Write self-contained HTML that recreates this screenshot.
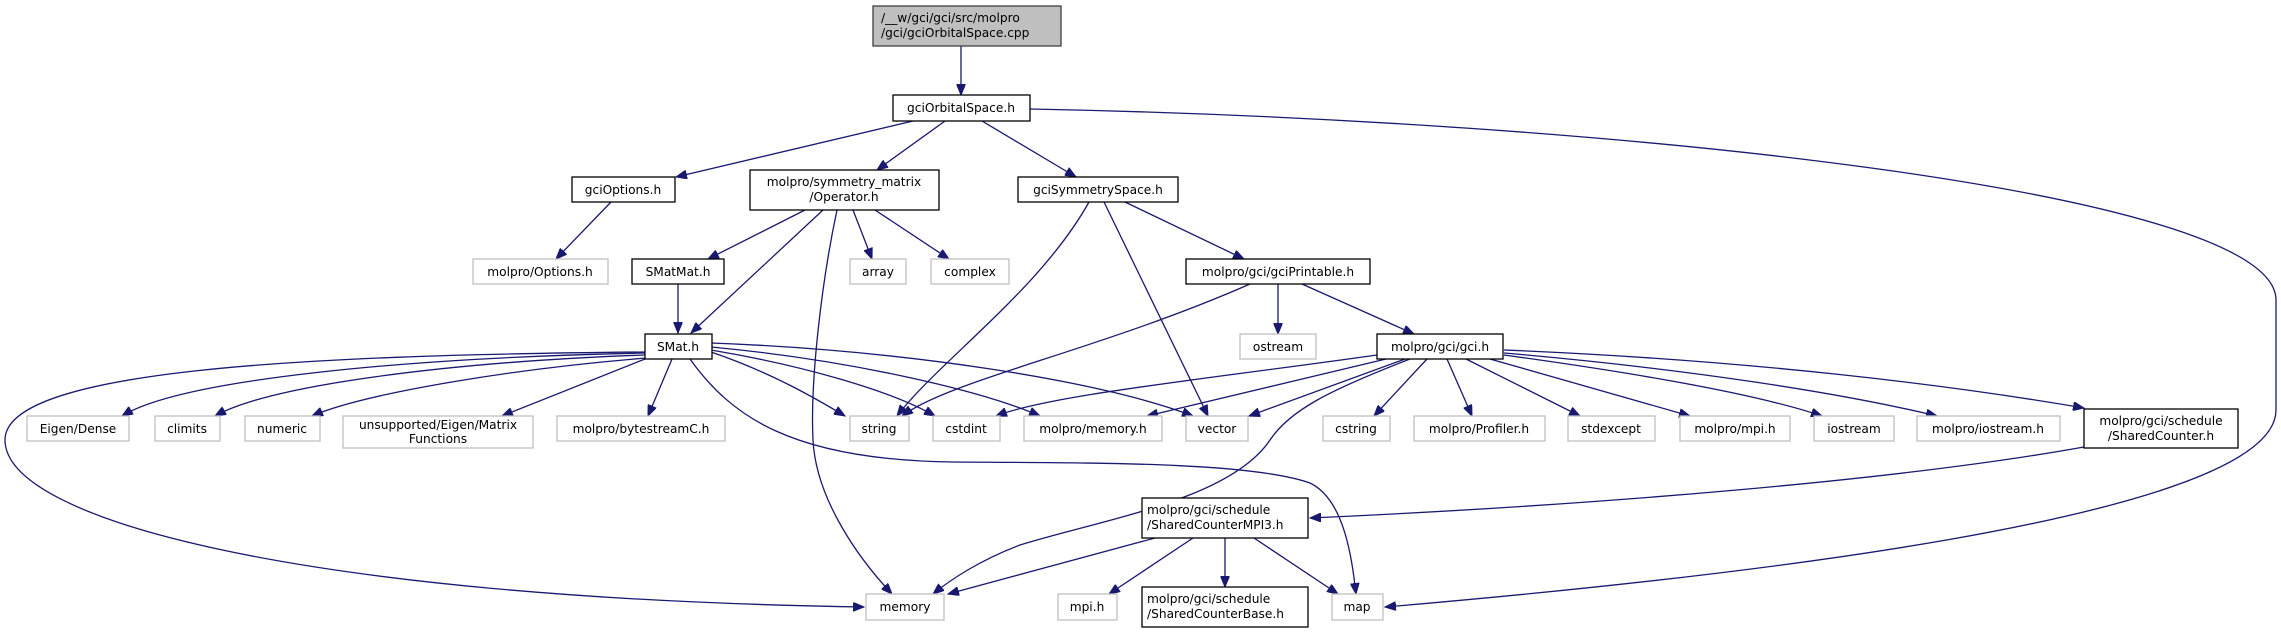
<!DOCTYPE html>
<html><head><meta charset="utf-8"><style>
html,body{margin:0;padding:0;background:#fff;}
svg{display:block;}
text{font-family:"DejaVu Sans","Liberation Sans",sans-serif;font-size:12.2px;fill:#000;text-anchor:middle;}
.n{fill:#fff;stroke:#000;stroke-width:1.3;}
.g{fill:#fff;stroke:#bfbfbf;stroke-width:1.3;}
.e{fill:none;stroke:#191970;stroke-width:1.3;marker-end:url(#a);}
</style></head><body>
<svg width="2281" height="633" viewBox="0 0 2281 633" xmlns="http://www.w3.org/2000/svg">
<defs><marker id="a" markerUnits="userSpaceOnUse" markerWidth="12" markerHeight="9" refX="11" refY="4.5" orient="auto"><path d="M0,0 L11,4.5 L0,9 z" fill="#191970" stroke="#191970"/></marker></defs>

<!-- edges -->
<path class="e" d="M961,46 L961,95"/>
<path class="e" d="M913,121 L676,177"/>
<path class="e" d="M945,121 L877,170"/>
<path class="e" d="M982,121 L1076,177"/>
<path class="e" d="M1030,109 C1600,120 2276,190 2276,300 L2276,410 C2276,520 1700,580 1385,607"/>
<path class="e" d="M611,202 L556,259"/>
<path class="e" d="M805,210 L708,259"/>
<path class="e" d="M823,210 L691,333"/>
<path class="e" d="M837,210 C822,280 810,380 813,440 C816,500 860,560 892,594"/>
<path class="e" d="M853,210 L872,259"/>
<path class="e" d="M875,210 L949,259"/>
<path class="e" d="M1089,202 C1040,290 940,360 897,416"/>
<path class="e" d="M1104,202 L1208,416"/>
<path class="e" d="M1125,202 L1244,259"/>
<path class="e" d="M678,284 L678,333"/>
<path class="e" d="M645,352 C300,355 5,370 5,440 C5,520 300,598 864,607"/>
<path class="e" d="M645,353 C400,358 180,380 122,416"/>
<path class="e" d="M645,355 C450,362 270,385 215,416"/>
<path class="e" d="M646,358 C500,370 360,395 312,416"/>
<path class="e" d="M645,359 L502,416"/>
<path class="e" d="M672,359 L648,416"/>
<path class="e" d="M711,352 C770,372 815,398 845,416"/>
<path class="e" d="M711,350 C800,365 890,390 935,416"/>
<path class="e" d="M711,347 C850,360 980,390 1040,416"/>
<path class="e" d="M711,343 C900,350 1100,380 1193,416"/>
<path class="e" d="M690,359 C730,415 790,460 953,462 C1100,463 1250,462 1310,483 C1345,500 1352,560 1356,594"/>
<path class="e" d="M1250,284 C1100,350 950,380 902,416"/>
<path class="e" d="M1278,284 L1278,334"/>
<path class="e" d="M1302,284 L1414,334"/>
<path class="e" d="M1377,355 C1200,380 1050,395 996,416"/>
<path class="e" d="M1386,359 L1147,416"/>
<path class="e" d="M1405,359 L1249,416"/>
<path class="e" d="M1410,359 C1330,390 1290,410 1270,440 C1230,500 1100,520 1020,545 C980,560 950,580 933,594"/>
<path class="e" d="M1427,359 L1374,416"/>
<path class="e" d="M1447,359 L1472,416"/>
<path class="e" d="M1466,359 L1580,416"/>
<path class="e" d="M1490,359 L1690,416"/>
<path class="e" d="M1504,355 C1650,375 1760,395 1822,416"/>
<path class="e" d="M1504,353 C1700,370 1850,395 1937,416"/>
<path class="e" d="M1504,350 C1750,360 1950,385 2084,408"/>
<path class="e" d="M2084,447 C1900,480 1600,505 1310,518"/>
<path class="e" d="M1155,538 L948,594"/>
<path class="e" d="M1193,538 L1109,594"/>
<path class="e" d="M1225,538 L1225,587"/>
<path class="e" d="M1254,538 L1338,594"/>

<!-- nodes -->
<rect x="873" y="6" width="188" height="40" fill="#bfbfbf" stroke="#404040" stroke-width="1.3"/>
<text x="967" y="22" style="text-anchor:start" transform="translate(-86,0)">/__w/gci/gci/src/molpro</text>
<text x="967" y="37" style="text-anchor:start" transform="translate(-86,0)">/gci/gciOrbitalSpace.cpp</text>

<rect class="n" x="893" y="95" width="137" height="26"/><text x="961" y="112">gciOrbitalSpace.h</text>
<rect class="n" x="572" y="177" width="103" height="25"/><text x="623" y="194">gciOptions.h</text>
<rect class="n" x="750" y="170" width="189" height="40"/><text x="844" y="186">molpro/symmetry_matrix</text><text x="844" y="201">/Operator.h</text>
<rect class="n" x="1018" y="177" width="160" height="25"/><text x="1098" y="194">gciSymmetrySpace.h</text>
<rect class="g" x="473" y="259" width="135" height="25"/><text x="540" y="276">molpro/Options.h</text>
<rect class="n" x="632" y="259" width="92" height="25"/><text x="678" y="276">SMatMat.h</text>
<rect class="g" x="850" y="259" width="56" height="25"/><text x="878" y="276">array</text>
<rect class="g" x="931" y="259" width="78" height="25"/><text x="970" y="276">complex</text>
<rect class="n" x="1186" y="259" width="184" height="25"/><text x="1278" y="276">molpro/gci/gciPrintable.h</text>
<rect class="n" x="645" y="334" width="67" height="25"/><text x="678" y="351">SMat.h</text>
<rect class="g" x="1240" y="334" width="76" height="25"/><text x="1278" y="351">ostream</text>
<rect class="n" x="1377" y="334" width="126" height="25"/><text x="1440" y="351">molpro/gci/gci.h</text>

<rect class="g" x="27" y="416" width="102" height="25"/><text x="78" y="433">Eigen/Dense</text>
<rect class="g" x="155" y="416" width="65" height="25"/><text x="187" y="433">climits</text>
<rect class="g" x="245" y="416" width="75" height="25"/><text x="282" y="433">numeric</text>
<rect class="g" x="343" y="416" width="190" height="32"/><text x="438" y="429">unsupported/Eigen/Matrix</text><text x="438" y="443">Functions</text>
<rect class="g" x="557" y="416" width="168" height="25"/><text x="641" y="433">molpro/bytestreamC.h</text>
<rect class="g" x="850" y="416" width="59" height="25"/><text x="879" y="433">string</text>
<rect class="g" x="933" y="416" width="67" height="25"/><text x="966" y="433">cstdint</text>
<rect class="g" x="1024" y="416" width="138" height="25"/><text x="1093" y="433">molpro/memory.h</text>
<rect class="g" x="1186" y="416" width="62" height="25"/><text x="1217" y="433">vector</text>
<rect class="g" x="1323" y="416" width="67" height="25"/><text x="1356" y="433">cstring</text>
<rect class="g" x="1414" y="416" width="131" height="25"/><text x="1479" y="433">molpro/Profiler.h</text>
<rect class="g" x="1568" y="416" width="87" height="25"/><text x="1611" y="433">stdexcept</text>
<rect class="g" x="1680" y="416" width="110" height="25"/><text x="1735" y="433">molpro/mpi.h</text>
<rect class="g" x="1814" y="416" width="80" height="25"/><text x="1854" y="433">iostream</text>
<rect class="g" x="1917" y="416" width="143" height="25"/><text x="1988" y="433">molpro/iostream.h</text>
<rect class="n" x="2084" y="409" width="154" height="39"/><text x="2161" y="425">molpro/gci/schedule</text><text x="2161" y="440">/SharedCounter.h</text>

<rect class="n" x="1142" y="498" width="166" height="40"/><text x="1225" y="514" style="text-anchor:start" transform="translate(-78,0)">molpro/gci/schedule</text><text x="1225" y="529" style="text-anchor:start" transform="translate(-78,0)">/SharedCounterMPI3.h</text>
<rect class="g" x="866" y="594" width="78" height="26"/><text x="905" y="611">memory</text>
<rect class="g" x="1058" y="594" width="59" height="26"/><text x="1087" y="611">mpi.h</text>
<rect class="n" x="1142" y="587" width="166" height="40"/><text x="1225" y="603" style="text-anchor:start" transform="translate(-78,0)">molpro/gci/schedule</text><text x="1225" y="618" style="text-anchor:start" transform="translate(-78,0)">/SharedCounterBase.h</text>
<rect class="g" x="1332" y="594" width="51" height="26"/><text x="1357" y="611">map</text>
</svg>
</body></html>
